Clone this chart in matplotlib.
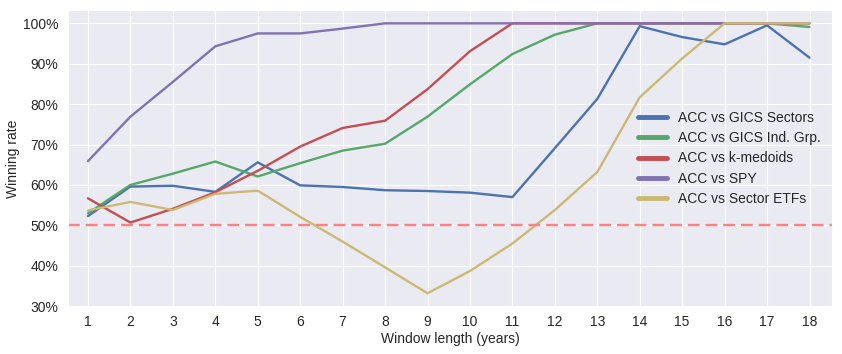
import matplotlib
matplotlib.use("Agg")
import matplotlib.pyplot as plt
from matplotlib.ticker import PercentFormatter
import seaborn as sns

sns.set_style("darkgrid")
plt.rcParams["font.family"] = ["Liberation Sans", "DejaVu Sans"]

windows = list(range(1, 19))

gics_sectors = [0.523, 0.596, 0.598, 0.583, 0.656, 0.599, 0.595, 0.587, 0.585,
                0.581, 0.570, 0.691, 0.813, 0.993, 0.966, 0.948, 0.995, 0.915]
gics_ind_grp = [0.530, 0.600, 0.628, 0.658, 0.621, 0.654, 0.685, 0.702, 0.769,
                0.849, 0.924, 0.972, 1.000, 1.000, 1.000, 1.000, 1.000, 0.991]
k_medoids = [0.567, 0.507, 0.541, 0.582, 0.635, 0.695, 0.741, 0.759, 0.837,
             0.931, 1.000, 1.000, 1.000, 1.000, 1.000, 1.000, 1.000, 1.000]
spy = [0.659, 0.769, 0.855, 0.943, 0.975, 0.975, 0.987, 1.000, 1.000,
       1.000, 1.000, 1.000, 1.000, 1.000, 1.000, 1.000, 1.000, 1.000]
sector_etfs = [0.537, 0.558, 0.538, 0.578, 0.586, 0.521, 0.460, 0.396, 0.332,
               0.387, 0.455, 0.538, 0.632, 0.817, 0.913, 1.000, 1.000, 1.000]

series = [
    ("ACC vs GICS Sectors", gics_sectors, "#4C72B0"),
    ("ACC vs GICS Ind. Grp.", gics_ind_grp, "#55A868"),
    ("ACC vs k-medoids", k_medoids, "#C44E52"),
    ("ACC vs SPY", spy, "#8172B2"),
    ("ACC vs Sector ETFs", sector_etfs, "#CCB974"),
]

fig = plt.figure(figsize=(8.42, 3.54), dpi=100)
ax = fig.add_axes([68 / 842, 47 / 354, 764 / 842, 297 / 354])

for label, vals, color in series:
    ax.plot(windows, vals, color=color, lw=1.7, label=label)

ax.axhline(0.5, color="#FF8080", ls="--", lw=1.7, dashes=(5, 2.5))

ax.set_xlim(0.53, 18.53)
ax.set_ylim(0.298, 1.033)
ax.set_xticks(windows)
ax.set_yticks([0.3, 0.4, 0.5, 0.6, 0.7, 0.8, 0.9, 1.0])
ax.yaxis.set_major_formatter(PercentFormatter(1.0, decimals=0))
ax.tick_params(labelsize=10, colors="#262626")
ax.tick_params(axis="x", pad=2.5)
ax.set_xlabel("Window length (years)", fontsize=10, color="#262626", labelpad=2)
ax.set_ylabel("Winning rate", fontsize=10, color="#262626", labelpad=2)

leg = ax.legend(loc="center left", bbox_to_anchor=(0.730, 0.5), frameon=False,
                fontsize=10, handlelength=2.1, labelspacing=0.45)
for line in leg.get_lines():
    line.set_linewidth(3.5)

fig.savefig("out.png", dpi=100)
